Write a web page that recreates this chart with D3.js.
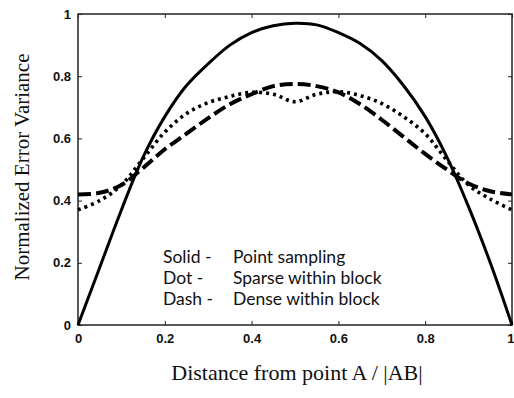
<!DOCTYPE html>
<html>
<head>
<meta charset="utf-8">
<script src="https://cdn.jsdelivr.net/npm/d3@7"></script>
<style>
  body { margin: 0; background: #fff; }
  svg { display: block; }
</style>
</head>
<body>
<svg width="514" height="398"></svg>
<script>
const xValues = [0, 0.05, 0.1, 0.15, 0.2, 0.25, 0.3, 0.35, 0.4, 0.45, 0.5, 0.55, 0.6, 0.65, 0.7, 0.75, 0.8, 0.85, 0.9, 0.95, 1];
const solidValues = [0, 0.185, 0.37, 0.54, 0.67, 0.77, 0.84, 0.9, 0.94, 0.962, 0.97, 0.965, 0.94, 0.905, 0.85, 0.77, 0.67, 0.54, 0.38, 0.2, 0];
const dotValues = [0.37, 0.40, 0.45, 0.535, 0.62, 0.68, 0.715, 0.735, 0.748, 0.742, 0.718, 0.742, 0.75, 0.738, 0.712, 0.67, 0.615, 0.53, 0.45, 0.405, 0.37];
const dashValues = [0.42, 0.425, 0.45, 0.505, 0.565, 0.615, 0.665, 0.71, 0.742, 0.768, 0.775, 0.768, 0.748, 0.71, 0.66, 0.605, 0.55, 0.5, 0.455, 0.43, 0.42];
const xTicks = [0, 0.2, 0.4, 0.6, 0.8, 1];
const yTicks = [0, 0.2, 0.4, 0.6, 0.8, 1];
const legendKeys = ['Solid -', 'Dot -', 'Dash -'];
const legendLabels = ['Point sampling', 'Sparse within block', 'Dense within block'];

const plot = { left: 78, right: 512, top: 14, bottom: 325 };

const svg = d3.select('svg');
const x = d3.scaleLinear([0, 1], [plot.left, plot.right]);
const y = d3.scaleLinear([0, 1], [plot.bottom, plot.top]);

const line = d3.line()
  .x((d) => x(d[0]))
  .y((d) => y(d[1]))
  .curve(d3.curveCatmullRom);

// box with inward ticks, matlab style
svg.append('rect')
  .attr('x', plot.left)
  .attr('y', plot.top)
  .attr('width', plot.right - plot.left)
  .attr('height', plot.bottom - plot.top)
  .attr('fill', 'none')
  .attr('stroke', '#222')
  .attr('stroke-width', 1.5);

const tickFont = (sel) => sel
  .style('font-family', '"Liberation Sans", Arial, sans-serif')
  .style('font-size', '13px')
  .style('font-weight', 'bold')
  .attr('fill', '#111');

const xAxis = svg.append('g')
  .attr('transform', `translate(0, ${plot.bottom})`)
  .call(d3.axisBottom(x).tickValues(xTicks).tickFormat(d3.format('~g')).tickSizeInner(-4).tickSizeOuter(0).tickPadding(9));
xAxis.select('.domain').remove();
xAxis.selectAll('text').call(tickFont);
// last label sits at the page edge, keep it inside
xAxis.selectAll('.tick text').filter((d) => d === 1)
  .attr('text-anchor', 'end')
  .attr('dx', 2);

const yAxis = svg.append('g')
  .attr('transform', `translate(${plot.left}, 0)`)
  .call(d3.axisLeft(y).tickValues(yTicks).tickFormat(d3.format('~g')).tickSizeInner(-4).tickSizeOuter(0).tickPadding(7));
yAxis.select('.domain').remove();
yAxis.selectAll('text').call(tickFont);

svg.append('g')
  .attr('transform', `translate(0, ${plot.top})`)
  .call(d3.axisTop(x).tickValues(xTicks).tickFormat('').tickSizeInner(-4).tickSizeOuter(0))
  .select('.domain').remove();

svg.append('g')
  .attr('transform', `translate(${plot.right}, 0)`)
  .call(d3.axisRight(y).tickValues(yTicks).tickFormat('').tickSizeInner(-4).tickSizeOuter(0))
  .select('.domain').remove();

svg.selectAll('.tick line').attr('stroke', '#222');

const series = [
  { values: solidValues, width: 3, dash: null },
  { values: dotValues, width: 3.6, dash: '3,4' },
  { values: dashValues, width: 4, dash: '13,5' },
];

series.forEach((s) => {
  svg.append('path')
    .datum(xValues.map((v, i) => [v, s.values[i]]))
    .attr('d', line)
    .attr('fill', 'none')
    .attr('stroke', '#000')
    .attr('stroke-width', s.width)
    .attr('stroke-dasharray', s.dash);
});

// legend text block
const legend = svg.append('g')
  .style('font-family', 'Lato, sans-serif')
  .style('font-size', '17.5px')
  .attr('fill', '#111');

legend.selectAll('text.key')
  .data(legendKeys)
  .join('text')
    .attr('class', 'key')
    .attr('x', 163)
    .attr('y', (d, i) => 263 + i * 21)
    .text((d) => d);

legend.selectAll('text.label')
  .data(legendLabels)
  .join('text')
    .attr('class', 'label')
    .attr('x', 233)
    .attr('y', (d, i) => 263 + i * 21)
    .text((d) => d);

svg.append('text')
  .text('Distance from point A / |AB|')
  .attr('x', 297)
  .attr('y', 380)
  .attr('text-anchor', 'middle')
  .style('font-family', '"Liberation Serif", "Times New Roman", serif')
  .style('font-size', '22px')
  .attr('fill', '#111');

svg.append('text')
  .text('Normalized Error Variance')
  .attr('transform', 'translate(29, 167) rotate(-90)')
  .attr('text-anchor', 'middle')
  .style('font-family', '"Liberation Serif", "Times New Roman", serif')
  .style('font-size', '21px')
  .attr('fill', '#111');
</script>
</body>
</html>
